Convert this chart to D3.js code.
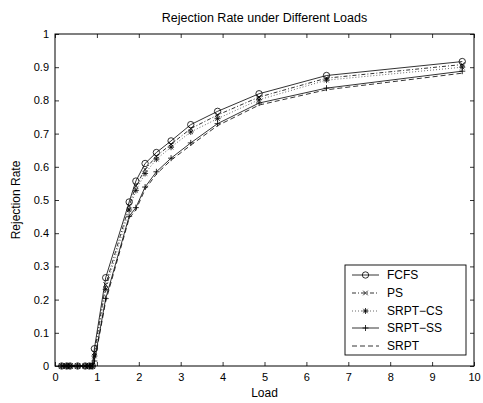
<!DOCTYPE html>
<html><head><meta charset="utf-8">
<script src="https://cdn.jsdelivr.net/npm/d3@7"></script>
<style>body{margin:0;background:#fff}svg{display:block}text{font-family:"Liberation Sans",Arial,Helvetica,sans-serif;fill:#000}</style>
</head><body>
<svg id="c" width="483" height="403"></svg>
<script>
const loads = [0.16, 0.28, 0.36, 0.54, 0.72, 0.82, 0.89, 0.94, 1.21, 1.77, 1.93, 2.15, 2.42, 2.77, 3.24, 3.88, 4.87, 6.48, 9.72];
const fcfs   = [0,0,0,0,0,0,0, 0.052, 0.266, 0.494, 0.557, 0.610, 0.643, 0.678, 0.727, 0.767, 0.820, 0.875, 0.917];
const ps     = [0,0,0,0,0,0,0, 0.040, 0.245, 0.482, 0.542, 0.592, 0.632, 0.668, 0.715, 0.756, 0.810, 0.867, 0.908];
const srptCS = [0,0,0,0,0,0,0, 0.030, 0.231, 0.470, 0.529, 0.580, 0.623, 0.659, 0.705, 0.745, 0.802, 0.861, 0.900];
const srptSS = [0,0,0,0,0,0,0, 0.015, 0.203, 0.451, 0.477, 0.539, 0.585, 0.626, 0.672, 0.730, 0.792, 0.837, 0.888];
const srpt   = [0,0,0,0,0,0,0, 0.010, 0.195, 0.445, 0.470, 0.532, 0.578, 0.620, 0.665, 0.724, 0.786, 0.832, 0.882];
const seriesNames = ["FCFS", "PS", "SRPT\u2212CS", "SRPT\u2212SS", "SRPT"];
const xTicks = [0,1,2,3,4,5,6,7,8,9,10];
const yTicks = [0,0.1,0.2,0.3,0.4,0.5,0.6,0.7,0.8,0.9,1];
const title = "Rejection Rate under Different Loads";

const svg = d3.select("#c");
const L = 55, R = 474, T = 34, B = 366;
const x = d3.scaleLinear().domain([0,10]).range([L,R]);
const y = d3.scaleLinear().domain([0,1]).range([B,T]);

const series = [
  {name: seriesNames[0], vals: fcfs,   dash: null,      marker: "circle"},
  {name: seriesNames[1], vals: ps,     dash: "4,2,1,2", marker: "x"},
  {name: seriesNames[2], vals: srptCS, dash: "1,2",     marker: "star"},
  {name: seriesNames[3], vals: srptSS, dash: null,      marker: "plus"},
  {name: seriesNames[4], vals: srpt,   dash: "5,3",     marker: null}
];

function drawMarker(g, type, cx, cy) {
  const s = 3;
  if (type === "circle") {
    g.append("circle").attr("cx", cx).attr("cy", cy).attr("r", 3.2)
      .attr("fill", "none").attr("stroke", "#000").attr("stroke-width", 0.8);
  } else if (type === "x") {
    g.append("path").attr("d", `M${cx-2.3},${cy-2.3}L${cx+2.3},${cy+2.3}M${cx-2.3},${cy+2.3}L${cx+2.3},${cy-2.3}`)
      .attr("stroke", "#000").attr("stroke-width", 0.8);
  } else if (type === "plus") {
    g.append("path").attr("d", `M${cx-s},${cy}L${cx+s},${cy}M${cx},${cy-s}L${cx},${cy+s}`)
      .attr("stroke", "#000").attr("stroke-width", 0.8);
  } else if (type === "star") {
    const a = 2.2;
    g.append("path").attr("d", `M${cx-s},${cy}L${cx+s},${cy}M${cx},${cy-s}L${cx},${cy+s}M${cx-a},${cy-a}L${cx+a},${cy+a}M${cx-a},${cy+a}L${cx+a},${cy-a}`)
      .attr("stroke", "#000").attr("stroke-width", 0.8);
  }
}

// axes box
svg.append("rect").attr("x", L).attr("y", T).attr("width", R-L).attr("height", B-T)
  .attr("fill", "none").attr("stroke", "#000").attr("stroke-width", 1);

// ticks (inward, all four sides)
const tl = 4;
const axB = svg.append("g").attr("transform", `translate(0,${B})`)
  .call(d3.axisBottom(x).tickValues(xTicks).tickSizeInner(-tl).tickSizeOuter(0).tickPadding(6).tickFormat(d3.format("d")));
const axT = svg.append("g").attr("transform", `translate(0,${T})`)
  .call(d3.axisTop(x).tickValues(xTicks).tickSizeInner(-tl).tickSizeOuter(0).tickFormat(""));
const axLft = svg.append("g").attr("transform", `translate(${L},0)`)
  .call(d3.axisLeft(y).tickValues(yTicks).tickSizeInner(-tl).tickSizeOuter(0).tickPadding(6).tickFormat(d => d3.format("")(+d.toFixed(1))));
const axRt = svg.append("g").attr("transform", `translate(${R},0)`)
  .call(d3.axisRight(y).tickValues(yTicks).tickSizeInner(-tl).tickSizeOuter(0).tickFormat(""));
[axB, axT, axLft, axRt].forEach(a => {
  a.select(".domain").remove();
  a.selectAll("line").attr("stroke", "#000").attr("stroke-width", 0.8);
  a.selectAll("text").style("font-size", "11px").style("font-family", '"Liberation Sans",Arial,sans-serif').attr("fill", "#000");
});
axB.selectAll("text").attr("dy", "0.71em").attr("y", 7);
axLft.selectAll("text").attr("x", -6);

// lines
const line = d3.line().x((d,i) => x(loads[i])).y(d => y(d));
const plot = svg.append("g");
series.forEach(s => {
  plot.append("path").datum(s.vals).attr("d", line)
    .attr("fill", "none").attr("stroke", s.dash === "1,2" ? "#444" : "#000")
    .attr("stroke-width", 0.8).attr("stroke-dasharray", s.dash);
});
series.forEach(s => {
  if (!s.marker) return;
  const g = plot.append("g");
  s.vals.forEach((v,i) => drawMarker(g, s.marker, x(loads[i]), y(v)));
});

// title & labels
svg.append("text").attr("x", (L+R)/2).attr("y", 22).attr("text-anchor", "middle")
  .style("font-size", "12.5px").text(title);
svg.append("text").attr("x", (L+R)/2).attr("y", 397).attr("text-anchor", "middle")
  .style("font-size", "12px").text("Load");
svg.append("text").attr("transform", `translate(20,${(T+B)/2}) rotate(-90)`).attr("text-anchor", "middle")
  .style("font-size", "12px").text("Rejection Rate");

// legend
const lg = svg.append("g");
const lx0 = 345, ly0 = 265, lw = 121, lh = 90;
lg.append("rect").attr("x", lx0).attr("y", ly0).attr("width", lw).attr("height", lh)
  .attr("fill", "#fff").attr("stroke", "#000").attr("stroke-width", 0.9);
const rowY = [275, 293, 311, 328, 346];
series.forEach((s,i) => {
  const yy = rowY[i];
  lg.append("line").attr("x1", 352).attr("x2", 379).attr("y1", yy).attr("y2", yy)
    .attr("stroke", s.dash === "1,2" ? "#444" : "#000").attr("stroke-width", 0.8).attr("stroke-dasharray", s.dash);
  if (s.marker) drawMarker(lg, s.marker, 365.5, yy);
  lg.append("text").attr("x", 387).attr("y", yy).attr("dy", "0.36em")
    .style("font-size", "12px").text(s.name);
});
</script>
</body></html>
